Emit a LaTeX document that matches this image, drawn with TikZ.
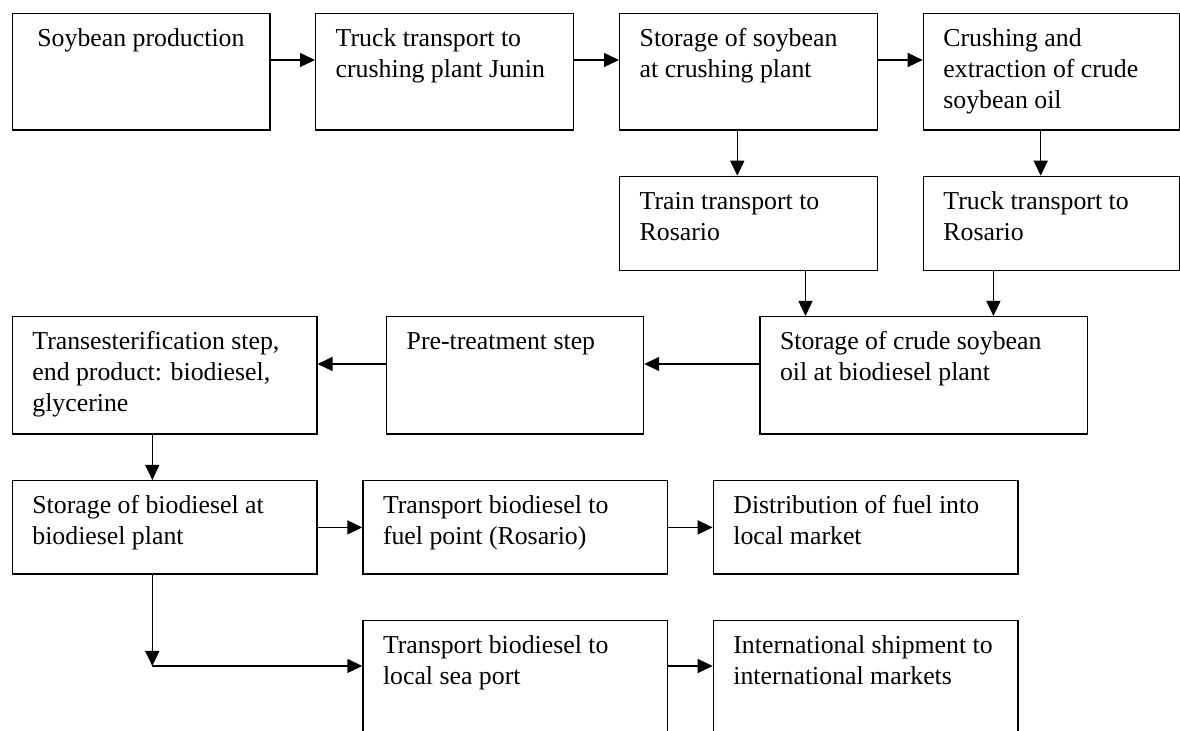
\documentclass[tikz,border=0pt]{standalone}
\usepackage{fontspec}
\setmainfont{Liberation Serif}
\usetikzlibrary{arrows.meta,calc}

\newcommand{\steptext}[3]{\parbox[c][#2][t]{#1}{\raggedright\leftskip=10pt\rule{0pt}{16.5pt}#3}}

\tikzset{
  stepbox/.style={draw, line width=0.7pt, inner sep=0pt, anchor=north west},
  flow/.style={-{Triangle[length=7.5pt,width=7pt]}, line width=0.7pt}
}

\begin{document}
\begin{tikzpicture}[x=0.5pt, y=-0.5pt, font=\fontsize{12.9pt}{15.5pt}\selectfont]
  \useasboundingbox (0,0) rectangle (1180,731);
  \clip (0,0) rectangle (1180,731);

  \node[stepbox] (prod) at (11.7,12.7) {\steptext{128.7pt}{58.3pt}{\hspace*{2.5pt}Soybean production}};
  \node[stepbox] (truckJ) at (315,12.7) {\steptext{128.8pt}{58.3pt}{Truck transport to\\crushing plant Junin}};
  \node[stepbox] (storeS) at (619,12.7) {\steptext{128.8pt}{58.3pt}{Storage of soybean\\at crushing plant}};
  \node[stepbox] (crush) at (922.7,12.7) {\steptext{128.3pt}{58.3pt}{Crushing and\\extraction of crude\\soybean oil}};

  \node[stepbox] (train) at (619,175.7) {\steptext{128.8pt}{47.2pt}{Train transport to\\Rosario}};
  \node[stepbox] (truckR) at (922.7,175.7) {\steptext{128.3pt}{47.2pt}{Truck transport to\\Rosario}};

  \node[stepbox] (trans) at (11.7,316) {\steptext{152.2pt}{58.7pt}{Transesterification step,\\end product: biodiesel,\\glycerine}};
  \node[stepbox] (pretreat) at (386,316) {\steptext{128.4pt}{58.7pt}{Pre-treatment step}};
  \node[stepbox] (storeO) at (759.3,316) {\steptext{163.7pt}{58.7pt}{Storage of crude soybean\\oil at biodiesel plant}};

  \node[stepbox] (storeB) at (11.7,480) {\steptext{152.2pt}{46.7pt}{Storage of biodiesel at\\biodiesel plant}};
  \node[stepbox] (fuelpt) at (362.3,480) {\steptext{152.2pt}{46.7pt}{Transport biodiesel to\\fuel point (Rosario)}};
  \node[stepbox] (distrib) at (712.7,480) {\steptext{152.3pt}{46.7pt}{Distribution of fuel into\\local market}};

  \node[stepbox] (seaport) at (362.3,620) {\steptext{152.2pt}{65pt}{Transport biodiesel to\\local sea port}};
  \node[stepbox] (ship) at (712.7,620) {\steptext{152.3pt}{65pt}{International shipment to\\international markets}};

  \coordinate (turn) at (152.3,666);

  \draw[flow] ([yshift=5.85pt]prod.east) -- ([yshift=5.85pt]truckJ.west);
  \draw[flow] ([yshift=5.85pt]truckJ.east) -- ([yshift=5.85pt]storeS.west);
  \draw[flow] ([yshift=5.85pt]storeS.east) -- ([yshift=5.85pt]crush.west);
  \draw[flow] ([xshift=-5.6pt]storeS.south) -- ([xshift=-5.6pt]train.north);
  \draw[flow] ([xshift=-5.5pt]crush.south) -- ([xshift=-5.5pt]truckR.north);
  \draw[flow] ([xshift=28.5pt]train.south) -- ([xshift=28.5pt]train.south |- storeO.north);
  \draw[flow] ([xshift=-29.15pt]truckR.south) -- ([xshift=-29.15pt]truckR.south |- storeO.north);
  \draw[flow] ([yshift=5.7pt]storeO.west) -- ([yshift=5.7pt]pretreat.east);
  \draw[flow] ([yshift=5.7pt]pretreat.west) -- ([yshift=5.7pt]trans.east);
  \draw[flow] (turn |- trans.south) -- (turn |- storeB.north);
  \draw[flow] (storeB) -- (fuelpt);
  \draw[flow] (fuelpt) -- (distrib);
  \draw[flow] (turn |- storeB.south) -- (turn);
  \draw[flow] (turn) -- (turn -| seaport.west);
  \draw[flow] (seaport.east |- turn) -- (ship.west |- turn);
\end{tikzpicture}
\end{document}
